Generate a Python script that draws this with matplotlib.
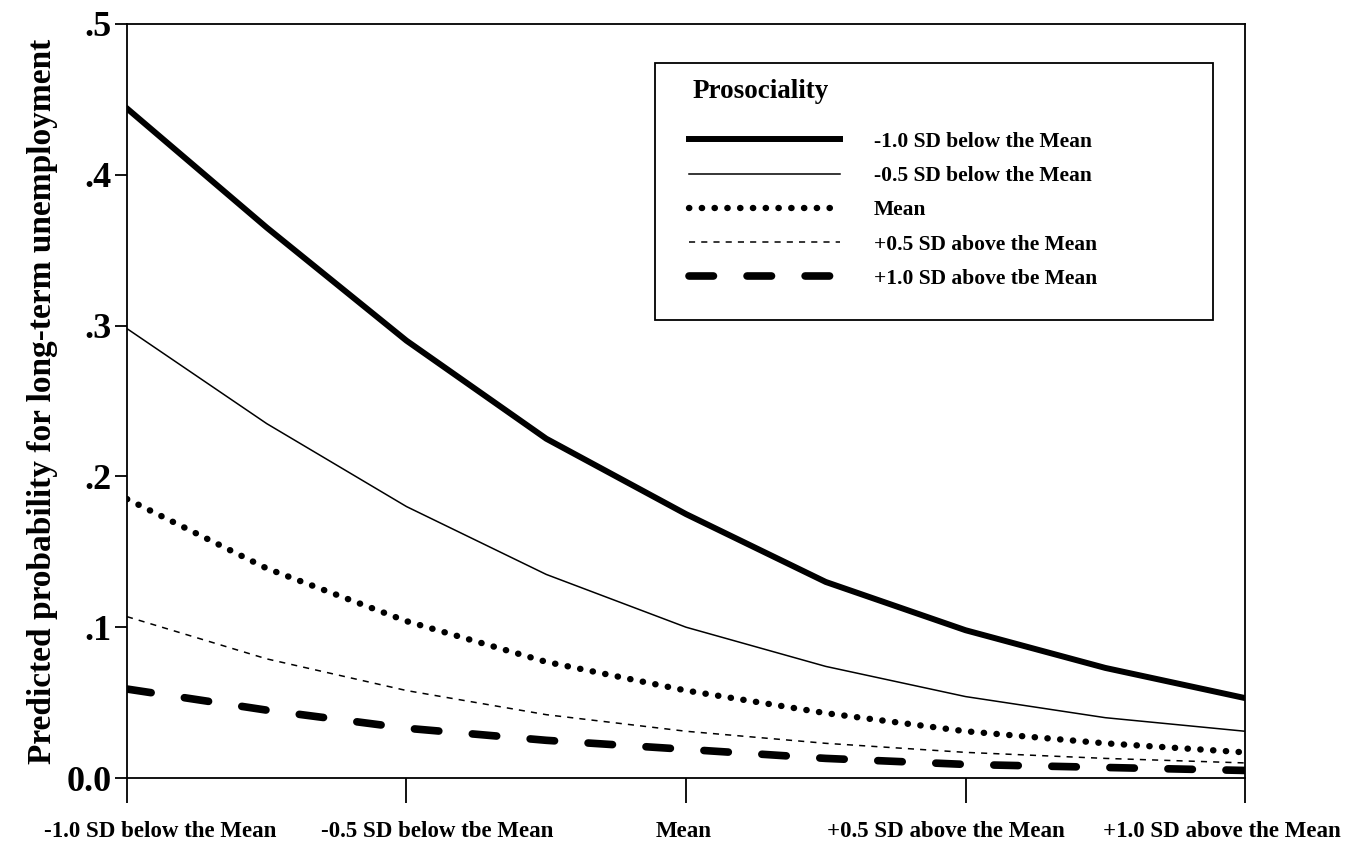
import matplotlib.pyplot as plt
import matplotlib.transforms as mtransforms
from matplotlib.patches import Rectangle
import numpy as np

plt.rcParams['font.family'] = ['Liberation Serif', 'DejaVu Serif']
plt.rcParams['font.weight'] = 'bold'

# x positions: -1.0 SD ... +1.0 SD in quarter steps of the category axis
x = [0, 0.5, 1, 1.5, 2, 2.5, 3, 3.5, 4]
x_ticks = [0, 1, 2, 3, 4]
x_labels = ['-1.0 SD below the Mean', '-0.5 SD below tbe Mean', 'Mean',
            '+0.5 SD above the Mean', '+1.0 SD above the Mean']
y_ticks = [0.0, 0.1, 0.2, 0.3, 0.4, 0.5]
y_labels = ['0.0', '.1', '.2', '.3', '.4', '.5']

series_names = ['-1.0 SD below the Mean', '-0.5 SD below the Mean', 'Mean',
                '+0.5 SD above the Mean', '+1.0 SD above tbe Mean']
sd_minus_10 = [0.444, 0.365, 0.290, 0.225, 0.175, 0.130, 0.098, 0.073, 0.053]
sd_minus_05 = [0.298, 0.235, 0.180, 0.135, 0.100, 0.074, 0.054, 0.040, 0.031]
sd_mean = [0.185, 0.139, 0.104, 0.077, 0.058, 0.043, 0.031, 0.023, 0.017]
sd_plus_05 = [0.107, 0.079, 0.058, 0.042, 0.031, 0.023, 0.017, 0.013, 0.010]
sd_plus_10 = [0.059, 0.045, 0.033, 0.025, 0.019, 0.013, 0.009, 0.007, 0.005]

fig = plt.figure(figsize=(13.45, 8.42), dpi=100)
ax = fig.add_axes([0.0944, 0.076, 0.8313, 0.8955])

ax.plot(x, sd_minus_10, color='black', linewidth=4.3, label=series_names[0])
ax.plot(x, sd_minus_05, color='black', linewidth=1.1, label=series_names[1])
ax.plot(x, sd_mean, color='black', linewidth=4.6, dashes=(0.05, 1.95),
        dash_capstyle='round', label=series_names[2])
ax.plot(x, sd_plus_05, color='black', linewidth=1.1, dashes=(4, 4),
        label=series_names[3])
ax.plot(x, sd_plus_10, color='black', linewidth=5.5, dashes=(3.2, 4.4),
        dash_capstyle='round', label=series_names[4])

ax.set_xlim(0, 4)
ax.set_ylim(0, 0.5)
ax.set_xticks(x_ticks)
ax.set_xticklabels(x_labels, fontsize=16.5, fontweight='bold')
ax.set_yticks(y_ticks)
ax.set_yticklabels(y_labels, fontsize=26, fontweight='bold')
ax.tick_params(axis='x', direction='out', length=18, width=1.3, pad=13)
ax.tick_params(axis='y', direction='out', length=9, width=1.3, pad=2)

# the printed labels are not quite centred on their ticks
shifts = [24, 22, -2, -14, -17]
for lab, dx in zip(ax.get_xticklabels(), shifts):
    lab.set_transform(lab.get_transform() +
                      mtransforms.ScaledTranslation(dx / 72, 0, fig.dpi_scale_trans))

for s in ax.spines.values():
    s.set_linewidth(1.3)

ax.set_ylabel('Predicted probability for long-term unemployment',
              fontsize=24, fontweight='bold', labelpad=6)

# legend box with its title
ax.add_patch(Rectangle((0.4723, 0.607), 0.4991, 0.341, transform=ax.transAxes,
                       fill=False, edgecolor='black', linewidth=1.3))
ax.text(0.506, 0.910, 'Prosociality', transform=ax.transAxes,
        fontsize=19.5, fontweight='bold', ha='left', va='center')
leg = ax.legend(loc='upper left', bbox_to_anchor=(0.5027, 0.857), frameon=False,
                fontsize=15.5, handlelength=7.0, handletextpad=1.6,
                labelspacing=0.66, borderpad=0, borderaxespad=0)

fig.savefig('out.png', dpi=100)
